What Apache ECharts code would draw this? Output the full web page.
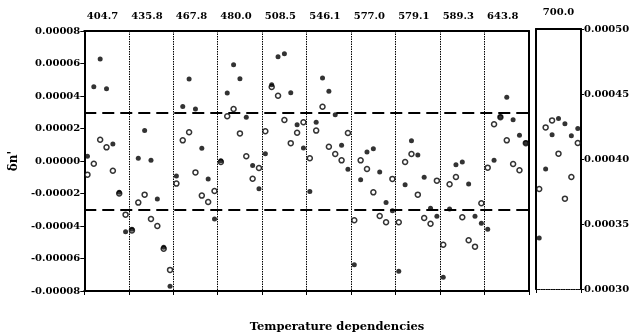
<!DOCTYPE html>
<html>
<head>
<meta charset="utf-8">
<script src="https://cdn.jsdelivr.net/npm/echarts@6/dist/echarts.min.js"></script>
<style>html,body{margin:0;padding:0;background:#fff}#c{width:634px;height:335px}</style>
</head>
<body>
<div id="c"></div>
<script>
// Values in units of 1e-5 (axis labels are formatted back to real values)
var wavelengths = ['404.7','435.8','467.8','480.0','508.5','546.1','577.0','579.1','589.3','643.8'];
var rightLabel = ['700.0'];

// 7 points per wavelength section, filled (black) and open (white) markers
var filledLeft = [
  0.3, 4.57, 6.28, 4.45, 1.05, -1.93, -4.35,
  -4.2, 0.17, 1.87, 0.04, -2.34, -5.3, -7.7,
  -0.92, 3.36, 5.05, 3.2, 0.78, -1.1, -3.57,
  0.02, 4.18, 5.93, 5.06, 2.69, -0.27, -1.7,
  0.45, 4.7, 6.42, 6.6, 4.2, 2.23, 0.8,
  -1.87, 2.38, 5.11, 4.29, 2.85, 0.97, -0.51,
  -6.38, -1.15, 0.55, 0.76, -0.68, -2.56, -3.06,
  -6.79, -1.46, 1.25, 0.37, -1.0, -2.91, -3.4,
  -7.16, -2.95, -0.23, -0.06, -1.42, -3.4, -3.83,
  -4.2, 0.04, 2.73, 3.92, 2.54, 1.58, 1.13
];
var openLeft = [
  -0.84, -0.17, 1.31, 0.84, -0.6, -2.0, -3.3,
  -4.27, -2.56, -2.07, -3.57, -4.0, -5.4, -6.7,
  -1.39, 1.27, 1.77, -0.7, -2.13, -2.52, -1.85,
  -0.06, 2.75, 3.2, 1.7, 0.29, -1.09, -0.43,
  1.83, 4.55, 4.02, 2.52, 1.1, 1.74, 2.38,
  0.17, 1.87, 3.34, 0.88, 0.43, 0.04, 1.72,
  -3.65, 0.04, -0.49, -1.93, -3.38, -3.77, -1.1,
  -3.77, -0.06, 0.43, -2.07, -3.51, -3.86, -1.21,
  -5.15, -1.43, -0.98, -3.46, -4.88, -5.27, -2.6,
  -0.41, 2.26, 2.7, 1.27, -0.18, -0.57, 1.1
];
var filledRight = [33.92, 39.23, 41.87, 43.12, 42.71, 41.79, 42.35];
var openRight = [37.69, 42.43, 42.97, 40.41, 36.95, 38.62, 41.23];
var bandLimits = [3, -3];

var FONT = 'DejaVu Serif';
function pts(arr){ return arr.map(function(v,i){ return [i + 0.5, v]; }); }
function fmt(v){ return (v * 1e-5).toFixed(5); }

var chart = echarts.init(document.getElementById('c'), null, {renderer:'canvas'});
var lbl = {fontFamily: FONT, fontWeight: 'bold', fontSize: 10, color: '#000'};
var black2 = {show: true, onZero: false, lineStyle: {color: '#000', width: 2}};

chart.setOption({
  animation: false,
  backgroundColor: '#fff',
  grid: [
    {left: 84, right: 105, top: 31, bottom: 44},
    {left: 536, right: 53, top: 29, bottom: 46}
  ],
  xAxis: [
    {gridIndex: 0, type: 'value', min: 0, max: 70, interval: 7, position: 'bottom',
     axisLine: black2, axisTick: {show: true, length: 4, lineStyle: {color: '#000'}},
     axisLabel: {show: false},
     splitLine: {show: true, lineStyle: {color: '#000', type: [1.5, 1], width: 1}}},
    {gridIndex: 0, type: 'category', data: wavelengths, position: 'top',
     axisLine: black2, axisTick: {show: false},
     axisLabel: Object.assign({margin: 10, padding: [0, 8, 0, 0]}, lbl)},
    {gridIndex: 1, type: 'value', min: 0, max: 7, interval: 7, position: 'bottom',
     axisLine: {show: true, onZero: false, lineStyle: {color: '#000', width: 1, type: [1.5, 1]}},
     axisTick: {show: true, length: 4, lineStyle: {color: '#000'}},
     axisLabel: {show: false}, splitLine: {show: false}},
    {gridIndex: 1, type: 'category', data: rightLabel, position: 'top',
     axisLine: black2, axisTick: {show: false},
     axisLabel: Object.assign({margin: 12}, lbl)}
  ],
  yAxis: [
    {gridIndex: 0, type: 'value', min: -8, max: 8, interval: 2, position: 'left',
     axisLine: black2, axisTick: {show: true, length: 4, lineStyle: {color: '#000'}},
     axisLabel: Object.assign({margin: 4, formatter: fmt}, lbl),
     splitLine: {show: false},
     name: "δn'", nameLocation: 'middle', nameRotate: 90, nameGap: 62,
     nameTextStyle: {fontFamily: FONT, fontWeight: 'bold', fontSize: 12, color: '#000'}},
    {gridIndex: 0, type: 'value', min: -8, max: 8, interval: 2, position: 'right',
     axisLine: black2, axisTick: {show: false}, axisLabel: {show: false}, splitLine: {show: false}},
    {gridIndex: 1, type: 'value', min: 30, max: 50, interval: 5, position: 'left',
     axisLine: black2, axisTick: {show: false}, axisLabel: {show: false}, splitLine: {show: false}},
    {gridIndex: 1, type: 'value', min: 30, max: 50, interval: 5, position: 'right',
     axisLine: black2, axisTick: {show: true, length: 3, lineStyle: {color: '#000'}},
     axisLabel: Object.assign({margin: 3, formatter: fmt}, lbl), splitLine: {show: false}}
  ],
  series: [
    {type: 'scatter', xAxisIndex: 0, yAxisIndex: 0, data: pts(openLeft),
     symbol: 'circle', symbolSize: 5,
     itemStyle: {color: '#fff', borderColor: '#000', borderWidth: 1.5},
     markLine: {silent: true, symbol: 'none', label: {show: false},
       lineStyle: {color: '#000', width: 2, type: [12, 6]},
       data: bandLimits.map(function(v){ return {yAxis: v}; })}},
    {type: 'scatter', xAxisIndex: 0, yAxisIndex: 0, data: pts(filledLeft),
     symbol: 'circle', symbolSize: 5, itemStyle: {color: '#000'}},
    {type: 'scatter', xAxisIndex: 2, yAxisIndex: 3, data: pts(openRight),
     symbol: 'circle', symbolSize: 5,
     itemStyle: {color: '#fff', borderColor: '#000', borderWidth: 1.5}},
    {type: 'scatter', xAxisIndex: 2, yAxisIndex: 3, data: pts(filledRight),
     symbol: 'circle', symbolSize: 5, itemStyle: {color: '#000'}}
  ],
  graphic: [
    {type: 'text', x: 337, y: 327,
     style: {text: 'Temperature dependencies', fontFamily: FONT, fontWeight: 'bold', fontSize: 11.5,
       fill: '#000', textAlign: 'center', textVerticalAlign: 'middle'}}
  ]
});
</script>
</body>
</html>
